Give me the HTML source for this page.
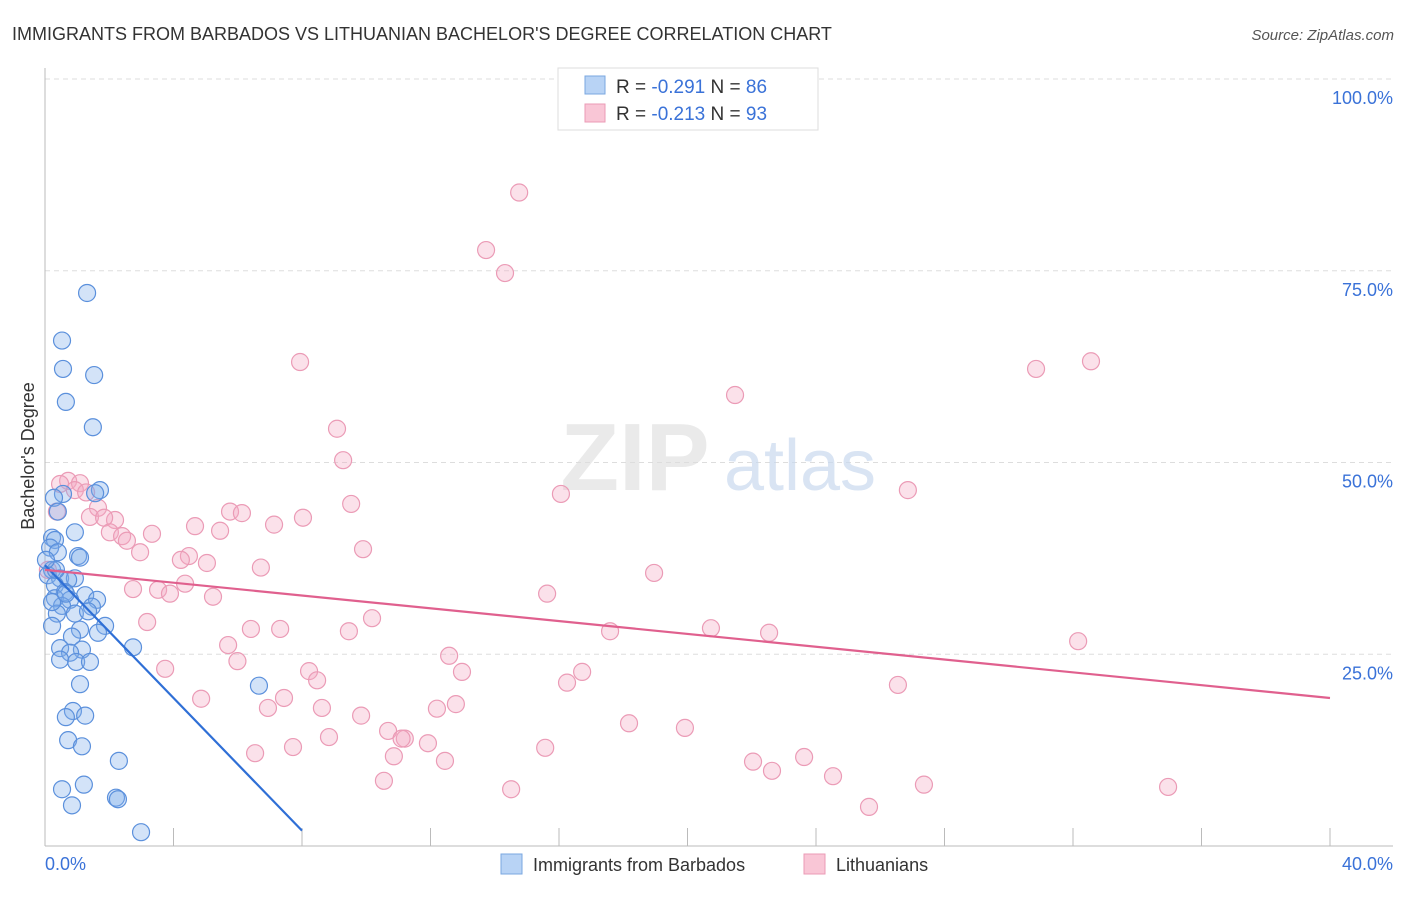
<!DOCTYPE html>
<html><head><meta charset="utf-8"><style>
body{margin:0;background:#fff;font-family:"Liberation Sans",sans-serif}
svg text{font-family:"Liberation Sans",sans-serif}
</style></head><body>
<svg id="chart" width="1406" height="892" xmlns="http://www.w3.org/2000/svg">
<text x="12" y="40" font-size="18" fill="#333">IMMIGRANTS FROM BARBADOS VS LITHUANIAN BACHELOR'S DEGREE CORRELATION CHART</text>
<text x="1394" y="40" font-size="15" fill="#555" text-anchor="end" font-style="italic">Source: ZipAtlas.com</text>
<g id="grid"></g>
<g id="wm">
<text x="635" y="490" font-size="96" fill="#ddd" text-anchor="middle" font-family="Liberation Serif" font-weight="bold" opacity="0.6">ZIP</text>
<text x="800" y="490" font-size="72" fill="#c9d9ef" text-anchor="middle" opacity="0.7">atlas</text>
</g>
<g id="axes"></g>
<g id="pts"></g>
<g id="trends"></g>
<text x="34" y="456" font-size="18" fill="#333" text-anchor="middle" transform="rotate(-90 34 456)">Bachelor's Degree</text>
<g>
<rect x="558" y="68" width="260" height="62" fill="#fff" stroke="#ddd"/>
<rect x="585" y="76" width="20" height="18" fill="#b8d3f5" stroke="#7aa7e0"/>
<rect x="585" y="104" width="20" height="18" fill="#f9c6d6" stroke="#eb9bb6"/>
<text x="616" y="93" font-size="19" fill="#333">R = <tspan fill="#3a72d8">-0.291</tspan>   N = <tspan fill="#3a72d8">86</tspan></text>
<text x="616" y="120" font-size="19" fill="#333">R = <tspan fill="#3a72d8">-0.213</tspan>   N = <tspan fill="#3a72d8">93</tspan></text>
</g>
<g>
<rect x="501" y="854" width="21" height="20" fill="#b8d3f5" stroke="#7aa7e0"/>
<text x="533" y="871" font-size="18" fill="#333">Immigrants from Barbados</text>
<rect x="804" y="854" width="21" height="20" fill="#f9c6d6" stroke="#eb9bb6"/>
<text x="836" y="871" font-size="18" fill="#333">Lithuanians</text>
</g>
</svg>
<script>
const blueX=[1.31,0.53,0.56,1.53,0.65,1.49,1.71,0.56,0.28,1.56,0.40,0.93,0.22,0.31,0.16,0.40,1.03,1.09,0.22,0.09,0.47,0.93,0.72,0.31,0.62,1.25,1.62,0.31,0.78,0.53,1.46,0.93,0.37,1.34,0.22,1.87,1.09,1.65,0.84,0.47,1.15,0.78,2.74,0.47,0.97,1.40,1.09,6.66,0.87,1.25,0.65,0.72,1.15,2.30,0.53,1.21,0.84,2.21,2.27,2.99,0.22,0.65,0.34,0.03];
const blueY=[72.1,65.9,62.2,61.4,57.9,54.6,46.4,45.9,45.4,46.0,43.6,40.9,40.2,39.9,38.9,38.3,37.8,37.6,36.0,35.3,34.9,34.9,34.7,34.0,33.1,32.7,32.1,32.3,32.1,31.3,31.2,30.3,30.3,30.6,28.7,28.7,28.2,27.8,27.3,25.8,25.6,25.2,25.9,24.3,24.0,24.0,21.1,20.9,17.6,17.0,16.8,13.8,13.0,11.1,7.4,8.0,5.3,6.3,6.1,1.8,31.8,32.9,36.0,37.3];
const pinkX=[14.76,13.73,14.32,7.94,30.85,32.56,21.48,9.09,9.28,16.06,26.86,9.53,0.72,0.47,1.09,0.93,1.28,0.37,1.65,1.40,2.18,1.84,5.76,6.13,4.67,7.13,8.03,5.45,2.02,2.40,2.55,3.33,2.96,4.48,9.90,4.23,5.04,6.72,18.96,4.36,2.74,3.52,3.89,5.23,15.63,10.18,3.18,6.41,7.32,9.46,17.59,20.73,22.54,32.16,5.70,12.58,5.99,3.74,8.22,12.98,16.72,8.47,16.25,26.55,4.86,7.44,6.94,8.62,12.79,12.20,9.84,18.18,19.92,10.68,8.84,11.20,11.10,11.92,7.72,15.57,6.54,10.86,12.45,22.04,22.63,23.63,24.53,10.55,14.51,27.36,25.65,34.96,0.09];
const pinkY=[85.2,77.7,74.7,63.1,62.2,63.2,58.8,54.4,50.3,45.9,46.4,44.6,47.6,47.2,47.3,46.4,46.1,43.6,44.1,42.9,42.5,42.8,43.6,43.4,41.7,41.9,42.8,41.1,40.9,40.4,39.8,40.7,38.3,37.8,38.7,37.3,36.9,36.3,35.6,34.2,33.5,33.4,32.9,32.5,32.9,29.7,29.2,28.3,28.3,28.0,28.0,28.4,27.8,26.7,26.2,24.8,24.1,23.1,22.8,22.7,22.7,21.6,21.3,21.0,19.2,19.3,18.0,18.0,18.5,17.9,17.0,16.0,15.4,15.0,14.2,14.0,14.0,13.4,12.9,12.8,12.1,11.7,11.1,11.0,9.8,11.6,9.1,8.5,7.4,8.0,5.1,7.7,36.0];
const blueTrend=[36.6,2.0];   // y at x=0 and x=8
const blueTrendX=[0,8];
const pinkTrend=[36.0,19.3];
const pinkTrendX=[0,40];
const yTicks=[25,50,75,100];
const yTickLabels=["25.0%","50.0%","75.0%","100.0%"];
const xTicks=[0,4,8,12,16,20,24,28,32,36,40];

const NS="http://www.w3.org/2000/svg";
const sx=v=>45+v/40*1285, sy=v=>846-v/100*767;
function mk(tag,attrs,parent){const e=document.createElementNS(NS,tag);for(const k in attrs)e.setAttribute(k,attrs[k]);parent.appendChild(e);return e;}
const grid=document.getElementById('grid'),axes=document.getElementById('axes'),pts=document.getElementById('pts'),tr=document.getElementById('trends');
yTicks.forEach((t,i)=>{
 const l=mk('line',{x1:45,x2:1393,y1:sy(t),y2:sy(t),stroke:'#ddd','stroke-dasharray':'5,4'},grid);
 
 
 const tx=mk('text',{x:1393,y:sy(t)+25,'font-size':18,fill:'#3a72d8','text-anchor':'end'},axes);
 tx.textContent=yTickLabels[i];
 
 
});
mk('line',{x1:45,x2:45,y1:68,y2:846,stroke:'#bbb'},axes);
mk('line',{x1:45,x2:1393,y1:846,y2:846,stroke:'#bbb'},axes);
xTicks.forEach(t=>{
 const l=mk('line',{x1:sx(t),x2:sx(t),y1:828,y2:846,stroke:'#bbb'},axes);
 
 
});
const x0=mk('text',{x:45,y:870,'font-size':18,fill:'#3a72d8'},axes);x0.textContent='0.0%';


const x1=mk('text',{x:1393,y:870,'font-size':18,fill:'#3a72d8','text-anchor':'end'},axes);x1.textContent='40.0%';


pinkX.forEach((x,i)=>{
 const c=mk('circle',{cx:sx(x),cy:sy(pinkY[i]),r:8.5,fill:'rgba(244,170,196,0.35)',stroke:'#eb9bb6','stroke-width':1.2},pts);
 
 
});
blueX.forEach((x,i)=>{
 const c=mk('circle',{cx:sx(x),cy:sy(blueY[i]),r:8.5,fill:'rgba(130,175,235,0.35)',stroke:'#5b90dc','stroke-width':1.2},pts);
 
 
});
const bl=mk('line',{x1:sx(blueTrendX[0]),y1:sy(blueTrend[0]),x2:sx(blueTrendX[1]),y2:sy(blueTrend[1]),stroke:'#2f6fd6','stroke-width':2.2},tr);


const pl=mk('line',{x1:sx(pinkTrendX[0]),y1:sy(pinkTrend[0]),x2:sx(pinkTrendX[1]),y2:sy(pinkTrend[1]),stroke:'#e0608e','stroke-width':2.2},tr);


</script>
</body></html>
